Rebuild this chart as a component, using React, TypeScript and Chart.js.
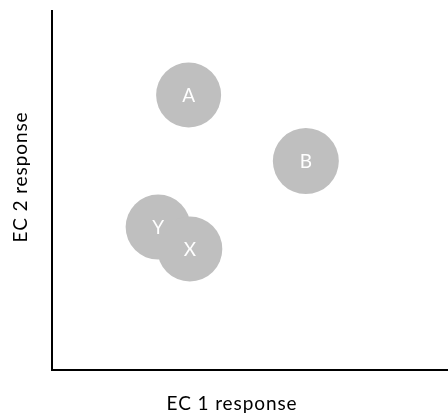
import React, { useEffect, useRef } from "react";
import { Chart, registerables } from "chart.js";

Chart.register(...registerables);

const labels = ["A", "B", "Y", "X"];
const ec1Values = [3.45, 6.41, 2.68, 3.48];
const ec2Values = [7.66, 5.82, 3.98, 3.37];
const bubbleRadius = [32.5, 33, 32.5, 32.5];
const xTitle = "EC 1 response";
const yTitle = "EC 2 response";

const FONT = "Lato, 'Open Sans', sans-serif";

const overlayPlugin = {
  id: "overlay",
  afterDatasetsDraw(chart: any) {
    const { ctx } = chart;
    const meta = chart.getDatasetMeta(0);
    ctx.save();
    ctx.fillStyle = "#ffffff";
    ctx.font = `19px ${FONT}`;
    ctx.textAlign = "center";
    ctx.textBaseline = "middle";
    meta.data.forEach((el: any, i: number) => {
      ctx.fillText(labels[i], el.x, el.y + 1);
    });
    ctx.restore();
  },
  afterDraw(chart: any) {
    const { ctx, chartArea } = chart;
    ctx.save();
    ctx.fillStyle = "#000000";
    ctx.font = `19px ${FONT}`;
    (ctx as any).letterSpacing = "0.9px";
    ctx.textAlign = "center";
    ctx.textBaseline = "middle";
    ctx.fillText(xTitle, chartArea.left + 180, chartArea.bottom + 34);
    ctx.translate(chartArea.left - 31, chartArea.top + 166);
    ctx.rotate(-Math.PI / 2);
    ctx.fillText(yTitle, 0, 0);
    ctx.restore();
  },
};

export default function App() {
  const ref = useRef<HTMLCanvasElement>(null);
  useEffect(() => {
    if (!ref.current) return;
    const chart = new Chart(ref.current, {
      type: "bubble",
      data: {
        datasets: [
          {
            data: labels.map((_, i) => ({ x: ec1Values[i], y: ec2Values[i], r: bubbleRadius[i] })),
            backgroundColor: "#bfbfbf",
            borderWidth: 0,
            hoverBorderWidth: 0,
          },
        ],
      },
      options: {
        responsive: false,
        animation: false,
        devicePixelRatio: 1,
        layout: { autoPadding: false, padding: { left: 52, top: 11, right: 0, bottom: 45 } },
        plugins: { legend: { display: false }, tooltip: { enabled: false } },
        scales: {
          x: {
            min: 0,
            max: 10,
            ticks: { display: false },
            grid: { display: false, drawTicks: false },
            border: { display: true, color: "#000000", width: 2 },
          },
          y: {
            min: 0,
            max: 10,
            ticks: { display: false },
            grid: { display: false, drawTicks: false },
            border: { display: true, color: "#000000", width: 2 },
          },
        },
      },
      plugins: [overlayPlugin],
    });
    return () => chart.destroy();
  }, []);
  return (
    <div style={{ position: "absolute", left: 0, top: 0, width: 448, height: 415, background: "#fff" }}>
      <canvas ref={ref} width={448} height={415} style={{ display: "block" }} />
    </div>
  );
}
